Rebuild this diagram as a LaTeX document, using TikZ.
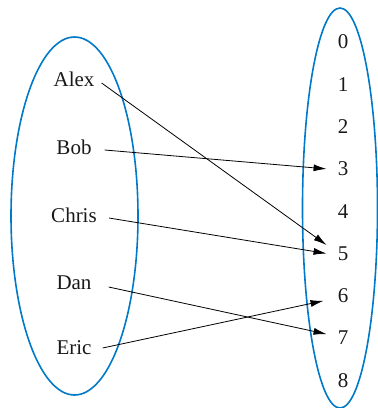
\documentclass[tikz,border=0pt]{standalone}
\usepackage{fontspec}
\setmainfont{Liberation Serif}
\usetikzlibrary{arrows.meta}
\definecolor{setblue}{RGB}{0,122,200}

\begin{document}
\begin{tikzpicture}[
    x=1pt, y=-1pt,
    font=\fontsize{21}{25}\selectfont,
    % Styles
    setring/.style={draw=setblue, line width=1.6pt},
    elem/.style={inner sep=0pt, text=black!90},
    maparrow/.style={-{Latex[length=13pt, width=7pt]}, line width=0.8pt}
]
\useasboundingbox (0,0) rectangle (378,408);

% 1. Domain and codomain
\draw[setring] (74.5,216) ellipse [x radius=63.5, y radius=179];
\draw[setring] (340,208) ellipse [x radius=37.5, y radius=200];

% 2. Names
\node[elem] (alex)  at (74,79)  {Alex};
\node[elem] (bob)   at (74,147) {Bob};
\node[elem] (chris) at (74,215) {Chris};
\node[elem] (dan)   at (74,283) {Dan};
\node[elem] (eric)  at (74,348) {Eric};

% 3. Numbers
\foreach \n in {0,...,8}
  \node[elem] (n\n) at (343,{42+42.3*\n}) {\n};

% 4. Mapping
\draw[maparrow] ([xshift=7pt,yshift=-4pt]alex.east) -- ([xshift=-11pt,yshift=8.5pt]n5.west);
\draw[maparrow] ([xshift=13pt,yshift=-3pt]bob.east) -- ([xshift=-11pt]n3.west);
\draw[maparrow] ([xshift=12pt,yshift=-3pt]chris.east) -- ([xshift=-11pt]n5.west);
\draw[maparrow] ([xshift=17pt,yshift=-4pt]dan.east) -- ([xshift=-11pt,yshift=4pt]n7.west);
\draw[maparrow] ([xshift=11pt]eric.east) -- ([xshift=-14pt,yshift=-5pt]n6.west);

\end{tikzpicture}
\end{document}
